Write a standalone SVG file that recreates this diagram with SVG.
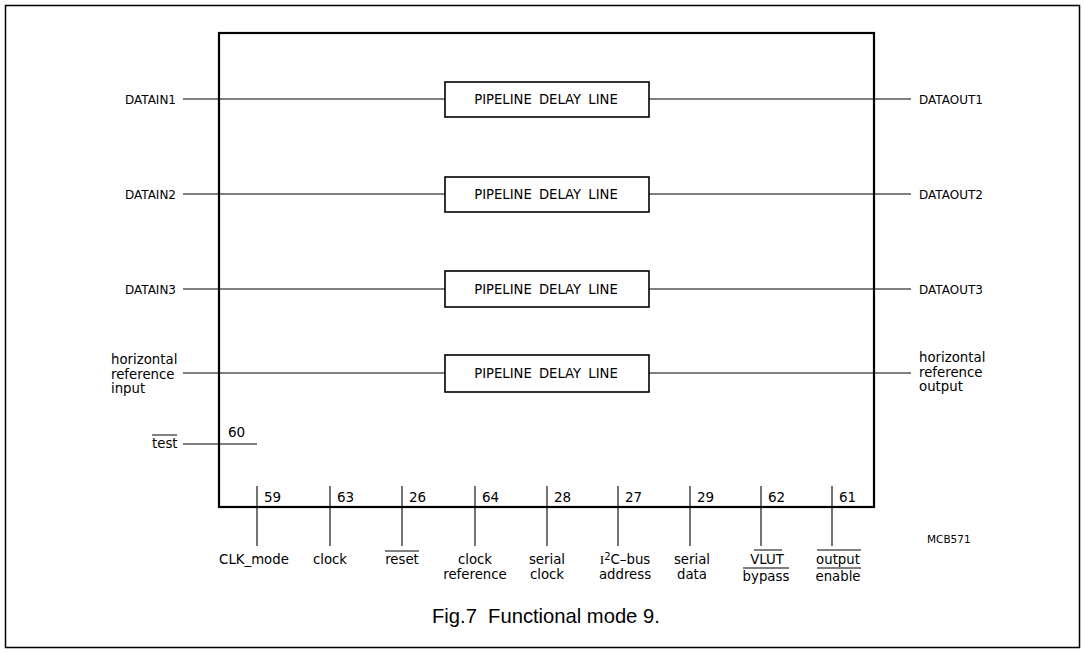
<svg xmlns="http://www.w3.org/2000/svg" width="1085" height="653" viewBox="0 0 1085 653">
<style>
.lbl{font-family:"DejaVu Sans",sans-serif;font-size:13.3px;fill:#000}
.cap{font-family:"DejaVu Sans",sans-serif;font-size:12px;fill:#000}
.num{font-family:"DejaVu Sans",sans-serif;font-size:13.5px;fill:#000}
.box{font-family:"DejaVu Sans",sans-serif;font-size:13.2px;word-spacing:3px;fill:#000;text-anchor:middle}
.mid{text-anchor:middle}
.end{text-anchor:end}
.frame{fill:none;stroke:#000;stroke-width:1.5}
.main{fill:none;stroke:#000;stroke-width:2.2}
.pbox{fill:#fff;stroke:#000;stroke-width:1.6}
.wire{stroke:#000;stroke-width:1.1;fill:none}
.ov{stroke:#000;stroke-width:1;fill:none}
</style>
<rect width="1085" height="653" fill="#fff"/>
<rect class="frame" x="5.5" y="5.5" width="1074" height="642"/>
<g id="chip">
  <rect class="main" x="219" y="33" width="655" height="474"/>
</g>
<g id="connectors">
  <line class="wire" x1="183" y1="99" x2="445" y2="99"/>
  <line class="wire" x1="649" y1="99" x2="911" y2="99"/>
  <line class="wire" x1="183" y1="194" x2="445" y2="194"/>
  <line class="wire" x1="649" y1="194" x2="911" y2="194"/>
  <line class="wire" x1="183" y1="289" x2="445" y2="289"/>
  <line class="wire" x1="649" y1="289" x2="911" y2="289"/>
  <line class="wire" x1="183" y1="373" x2="445" y2="373"/>
  <line class="wire" x1="649" y1="373" x2="911" y2="373"/>
  <line class="wire" x1="183" y1="444" x2="257" y2="444"/>
  <line class="wire" x1="257" y1="486" x2="257" y2="546"/>
  <line class="wire" x1="330" y1="486" x2="330" y2="546"/>
  <line class="wire" x1="402" y1="486" x2="402" y2="546"/>
  <line class="wire" x1="475" y1="486" x2="475" y2="546"/>
  <line class="wire" x1="547" y1="486" x2="547" y2="546"/>
  <line class="wire" x1="618" y1="486" x2="618" y2="546"/>
  <line class="wire" x1="690" y1="486" x2="690" y2="546"/>
  <line class="wire" x1="761" y1="486" x2="761" y2="546"/>
  <line class="wire" x1="832" y1="486" x2="832" y2="546"/>
</g>
<g id="pdl1"><rect class="pbox" x="445" y="82" width="204" height="35"/><text class="box" x="546" y="104">PIPELINE DELAY LINE</text></g>
<g id="pdl2"><rect class="pbox" x="445" y="177" width="204" height="35"/><text class="box" x="546" y="199">PIPELINE DELAY LINE</text></g>
<g id="pdl3"><rect class="pbox" x="445" y="271" width="204" height="36"/><text class="box" x="546" y="294">PIPELINE DELAY LINE</text></g>
<g id="pdl4"><rect class="pbox" x="445" y="355" width="204" height="37"/><text class="box" x="546" y="378">PIPELINE DELAY LINE</text></g>
<g id="inputs">
  <text class="cap end" x="176" y="104">DATAIN1</text>
  <text class="cap end" x="176" y="199">DATAIN2</text>
  <text class="cap end" x="176" y="294">DATAIN3</text>
  <text class="lbl" x="111" y="364">horizontal</text>
  <text class="lbl" x="111" y="379">reference</text>
  <text class="lbl" x="111" y="393">input</text>
  <text class="lbl" x="152" y="448">test</text>
  <line class="ov" x1="152" y1="435" x2="177" y2="435"/>
  <text class="num" x="228" y="437">60</text>
</g>
<g id="outputs">
  <text class="cap" x="919" y="104">DATAOUT1</text>
  <text class="cap" x="919" y="199">DATAOUT2</text>
  <text class="cap" x="919" y="294">DATAOUT3</text>
  <text class="lbl" x="919" y="362">horizontal</text>
  <text class="lbl" x="919" y="377">reference</text>
  <text class="lbl" x="919" y="391">output</text>
</g>
<g id="pins">
  <text class="num" x="264" y="502">59</text>
  <text class="num" x="337" y="502">63</text>
  <text class="num" x="409" y="502">26</text>
  <text class="num" x="482" y="502">64</text>
  <text class="num" x="554" y="502">28</text>
  <text class="num" x="625" y="502">27</text>
  <text class="num" x="697" y="502">29</text>
  <text class="num" x="768" y="502">62</text>
  <text class="num" x="839" y="502">61</text>
</g>
<g id="pinlabels">
  <text class="lbl mid" x="254" y="564">CLK_mode</text>
  <text class="lbl mid" x="330" y="564">clock</text>
  <text class="lbl mid" x="402" y="564">reset</text>
  <line class="ov" x1="385" y1="551" x2="419" y2="551"/>
  <text class="lbl mid" x="475" y="564">clock</text>
  <text class="lbl mid" x="475" y="579">reference</text>
  <text class="lbl mid" x="547" y="564">serial</text>
  <text class="lbl mid" x="547" y="579">clock</text>
  <text class="lbl mid" x="625" y="564"><tspan font-family="Liberation Serif, serif">I</tspan><tspan font-size="10" dy="-4">2</tspan><tspan dy="4">C–bus</tspan></text>
  <text class="lbl mid" x="625" y="579">address</text>
  <text class="lbl mid" x="692" y="564">serial</text>
  <text class="lbl mid" x="692" y="579">data</text>
  <text class="lbl mid" x="767" y="564">VLUT</text>
  <line class="ov" x1="754" y1="550" x2="782" y2="550"/>
  <text class="lbl mid" x="766" y="581">bypass</text>
  <line class="ov" x1="743" y1="568" x2="789" y2="568"/>
  <text class="lbl mid" x="838" y="564">output</text>
  <line class="ov" x1="817" y1="550" x2="861" y2="550"/>
  <text class="lbl mid" x="838" y="581">enable</text>
  <line class="ov" x1="817" y1="568" x2="861" y2="568"/>
</g>
<text x="927" y="543" style="font-family:'DejaVu Sans',sans-serif;font-size:10.5px">MCB571</text>
<text x="432" y="623" style="font-family:'Liberation Sans',Arial,sans-serif;font-size:20.2px" xml:space="preserve">Fig.7  Functional mode 9.</text>
</svg>
